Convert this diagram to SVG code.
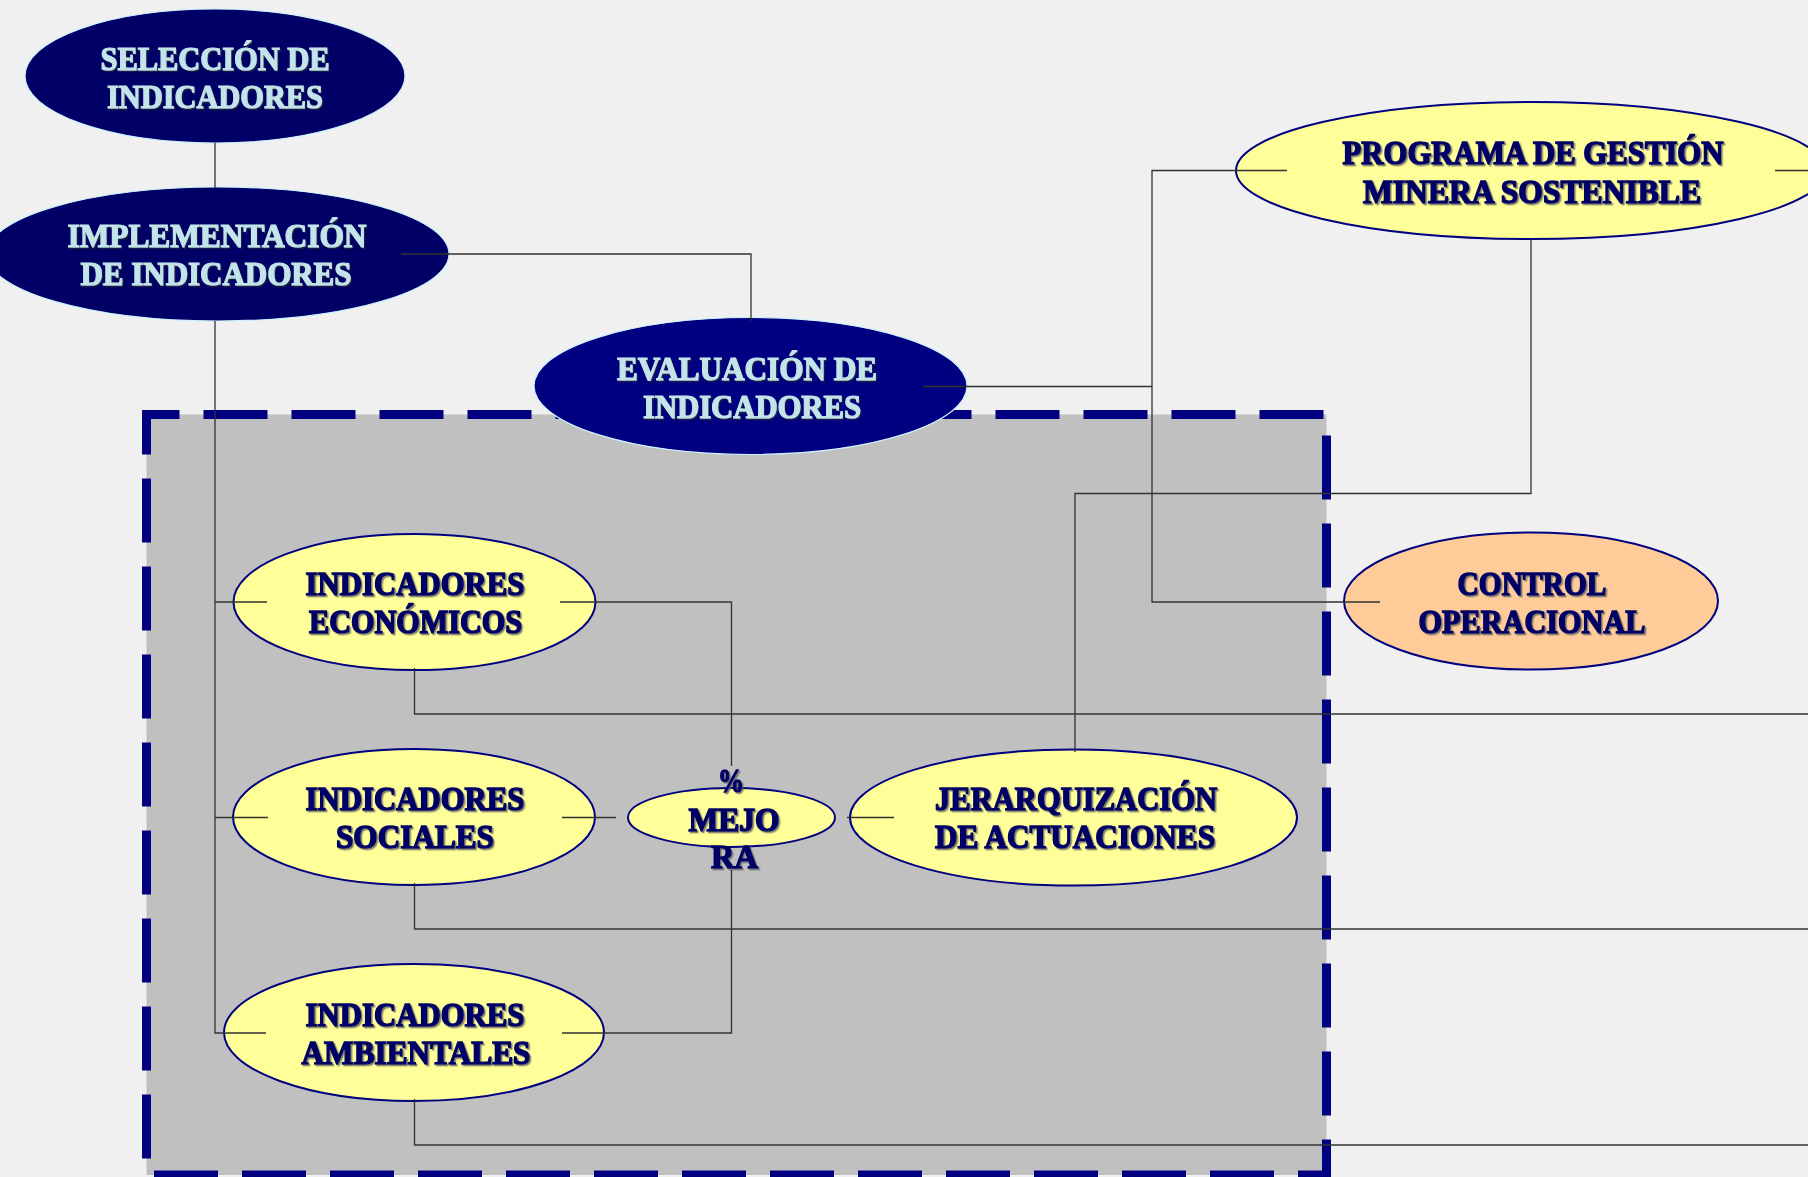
<svg xmlns="http://www.w3.org/2000/svg" width="1808" height="1177" viewBox="0 0 1808 1177">
<style>
.bg{fill:#F0F0F0}
.box{fill:#C0C0C0;stroke:#000080;stroke-width:9;stroke-dasharray:64 24;stroke-dashoffset:31}
.dk{fill:#000066;stroke:#CCF2FF;stroke-width:1.2}
.dk2{fill:#000080;stroke:#CCF2FF;stroke-width:1.2}
.yl{fill:#FFFF99;stroke:#000080;stroke-width:2}
.or{fill:#FFCC99;stroke:#000080;stroke-width:2}
text{font-family:"Liberation Serif","Times New Roman",serif;font-weight:bold;font-size:33px;text-anchor:middle}
.lt{fill:#C2E4EA;stroke:#C2E4EA;stroke-width:1.2;filter:url(#sh)}
.nv{fill:#000066;stroke:#000066;stroke-width:1.5;filter:url(#sh2)}
.ln{fill:none;stroke:#333333;stroke-width:1.3}
</style>
<defs>
<filter id="sh" x="-10%" y="-30%" width="120%" height="160%">
<feDropShadow dx="1.2" dy="1.5" stdDeviation="0.4" flood-color="#202040" flood-opacity="0.9"/>
</filter>
<filter id="sh2" x="-10%" y="-30%" width="120%" height="160%">
<feDropShadow dx="1.5" dy="1.5" stdDeviation="0.5" flood-color="#606060" flood-opacity="0.8"/>
</filter>
</defs>
<rect class="bg" x="0" y="0" width="1808" height="1177"/>
<rect id="container" class="box" x="146.5" y="414.5" width="1180" height="760.5"/>

<g id="n-seleccion">
<ellipse class="dk" cx="215" cy="76" rx="190" ry="67"/>
<text class="lt" x="215" y="70" textLength="229" lengthAdjust="spacingAndGlyphs">SELECCIÓN DE</text>
<text class="lt" x="215" y="108" textLength="216" lengthAdjust="spacingAndGlyphs">INDICADORES</text>
</g>
<g id="n-implementacion">
<ellipse class="dk" cx="218" cy="254" rx="231" ry="67"/>
<text class="lt" x="217" y="247" textLength="299" lengthAdjust="spacingAndGlyphs">IMPLEMENTACIÓN</text>
<text class="lt" x="216" y="285" textLength="271" lengthAdjust="spacingAndGlyphs">DE INDICADORES</text>
</g>
<g id="n-evaluacion">
<ellipse class="dk2" cx="750.5" cy="386" rx="216.5" ry="68.5"/>
<text class="lt" x="747" y="380" textLength="260" lengthAdjust="spacingAndGlyphs">EVALUACIÓN DE</text>
<text class="lt" x="752" y="418" textLength="218" lengthAdjust="spacingAndGlyphs">INDICADORES</text>
</g>
<g id="n-programa">
<ellipse class="yl" cx="1531" cy="170.5" rx="295" ry="68.5"/>
<text class="nv" x="1533" y="164" textLength="381" lengthAdjust="spacingAndGlyphs">PROGRAMA DE GESTIÓN</text>
<text class="nv" x="1532" y="203" textLength="338" lengthAdjust="spacingAndGlyphs">MINERA SOSTENIBLE</text>
</g>
<g id="n-control">
<ellipse class="or" cx="1531" cy="601" rx="187" ry="68.5"/>
<text class="nv" x="1532" y="595" textLength="149" lengthAdjust="spacingAndGlyphs">CONTROL</text>
<text class="nv" x="1532" y="633" textLength="227" lengthAdjust="spacingAndGlyphs">OPERACIONAL</text>
</g>
<g id="n-economicos">
<ellipse class="yl" cx="414.5" cy="602" rx="181" ry="68"/>
<text class="nv" x="415" y="595" textLength="219" lengthAdjust="spacingAndGlyphs">INDICADORES</text>
<text class="nv" x="415.5" y="633" textLength="213" lengthAdjust="spacingAndGlyphs">ECONÓMICOS</text>
</g>
<g id="n-sociales">
<ellipse class="yl" cx="414" cy="817" rx="181" ry="68"/>
<text class="nv" x="415" y="810" textLength="219" lengthAdjust="spacingAndGlyphs">INDICADORES</text>
<text class="nv" x="415" y="848" textLength="158" lengthAdjust="spacingAndGlyphs">SOCIALES</text>
</g>
<g id="n-ambientales">
<ellipse class="yl" cx="414" cy="1032.5" rx="190" ry="68.5"/>
<text class="nv" x="415" y="1026" textLength="219" lengthAdjust="spacingAndGlyphs">INDICADORES</text>
<text class="nv" x="416" y="1064" textLength="229" lengthAdjust="spacingAndGlyphs">AMBIENTALES</text>
</g>
<g id="n-mejora">
<ellipse class="yl" cx="731.5" cy="817.5" rx="103.5" ry="29.5"/>
<text class="nv" x="731" y="792" textLength="26" lengthAdjust="spacingAndGlyphs">%</text>
<text class="nv" x="734" y="831" textLength="91" lengthAdjust="spacingAndGlyphs">MEJO</text>
<text class="nv" x="734.5" y="868" textLength="47" lengthAdjust="spacingAndGlyphs">RA</text>
</g>
<g id="n-jerarquizacion">
<ellipse class="yl" cx="1073.5" cy="817.5" rx="223.5" ry="68"/>
<text class="nv" x="1076" y="810" textLength="282" lengthAdjust="spacingAndGlyphs">JERARQUIZACIÓN</text>
<text class="nv" x="1075" y="848" textLength="280" lengthAdjust="spacingAndGlyphs">DE ACTUACIONES</text>
</g>

<g id="connectors" class="ln">
<path d="M215,143 V188"/>
<path d="M401,254 H751 V321"/>
<path d="M923,386.5 H1152"/>
<path d="M1287,170.5 H1152 V602 H1380"/>
<path d="M1531,239 V493.5 H1075 V752"/>
<path d="M1775,170.5 H1808"/>
<path d="M215,321 V1033 H266 M215,602 H267 M215,817.5 H268"/>
<path d="M560,602 H731.5 V766"/>
<path d="M562,1033 H731.5 V870"/>
<path d="M562,817.5 H616"/>
<path d="M847,817.5 H894"/>
<path d="M414.5,668 V714 H1808"/>
<path d="M414.5,883 V929 H1808"/>
<path d="M414.5,1099 V1145 H1808"/>
</g>
</svg>
